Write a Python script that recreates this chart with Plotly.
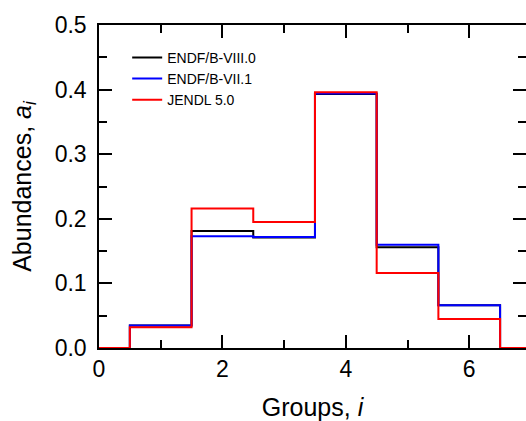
import plotly.graph_objects as go

groups = [0, 1, 2, 3, 4, 5, 6, 7]
endf80 = [0.0, 0.035, 0.181, 0.171, 0.393, 0.156, 0.066, 0.0]
endf71 = [0.0, 0.035, 0.173, 0.172, 0.394, 0.160, 0.066, 0.0]
jendl5 = [0.0, 0.032, 0.216, 0.195, 0.396, 0.116, 0.045, 0.0]

series = [
    ("ENDF/B-VIII.0", endf80, "#000000"),
    ("ENDF/B-VII.1", endf71, "#0000ff"),
    ("JENDL 5.0", jendl5, "#ff0000"),
]

fig = go.Figure()
for name, vals, col in series:
    fig.add_trace(go.Scatter(x=groups, y=vals, name=name, mode="lines",
                             line=dict(color=col, width=2, shape="hvh")))

font = "Liberation Sans, Arial, Helvetica, sans-serif"
fig.add_trace(go.Scatter(x=[0], y=[0], xaxis="x", yaxis="y2", showlegend=False,
                         mode="markers", marker=dict(opacity=0), hoverinfo="skip"))

tickstyle = dict(ticks="inside", ticklen=13, tickwidth=1.5, tickcolor="black")
minorstyle = dict(ticks="inside", ticklen=8, tickwidth=1.5, tickcolor="black")

fig.update_layout(
    width=526, height=421,
    margin=dict(l=99, r=0, t=25, b=73),
    paper_bgcolor="white", plot_bgcolor="white",
    font=dict(family=font, size=23, color="black"),
    showlegend=True,
    legend=dict(x=0.066, y=0.948, xanchor="left", yanchor="top",
                bgcolor="rgba(0,0,0,0)", font=dict(size=14), itemwidth=30),
    xaxis=dict(range=[0, 6.92], showgrid=False, zeroline=False, automargin=False,
               showline=True, linecolor="black", linewidth=1.5, mirror="ticks",
               tick0=0, dtick=2, **tickstyle,
               minor=dict(dtick=1, **minorstyle),
               title=dict(text="Groups, <i>i</i>", font=dict(size=25), standoff=17)),
    yaxis=dict(range=[0, 0.5], showgrid=False, zeroline=False, automargin=False,
               showline=True, linecolor="black", linewidth=1.5,
               tick0=0, dtick=0.1, tickformat=".1f", ticklabelstandoff=6, **tickstyle,
               minor=dict(dtick=0.05, **minorstyle),
               title=dict(text="Abundances, <i>a<sub>i</sub></i>", font=dict(size=25), standoff=16)),
    yaxis2=dict(range=[0, 0.5], overlaying="y", side="right", anchor="x", automargin=False,
                showgrid=False, zeroline=False, showline=False, showticklabels=False,
                tick0=0, dtick=0.1, **tickstyle,
                minor=dict(dtick=0.05, **minorstyle)),
)

fig.write_html("out.html", config={"displayModeBar": False},
               post_script="document.body.style.margin='0';document.body.style.overflow='hidden';")
